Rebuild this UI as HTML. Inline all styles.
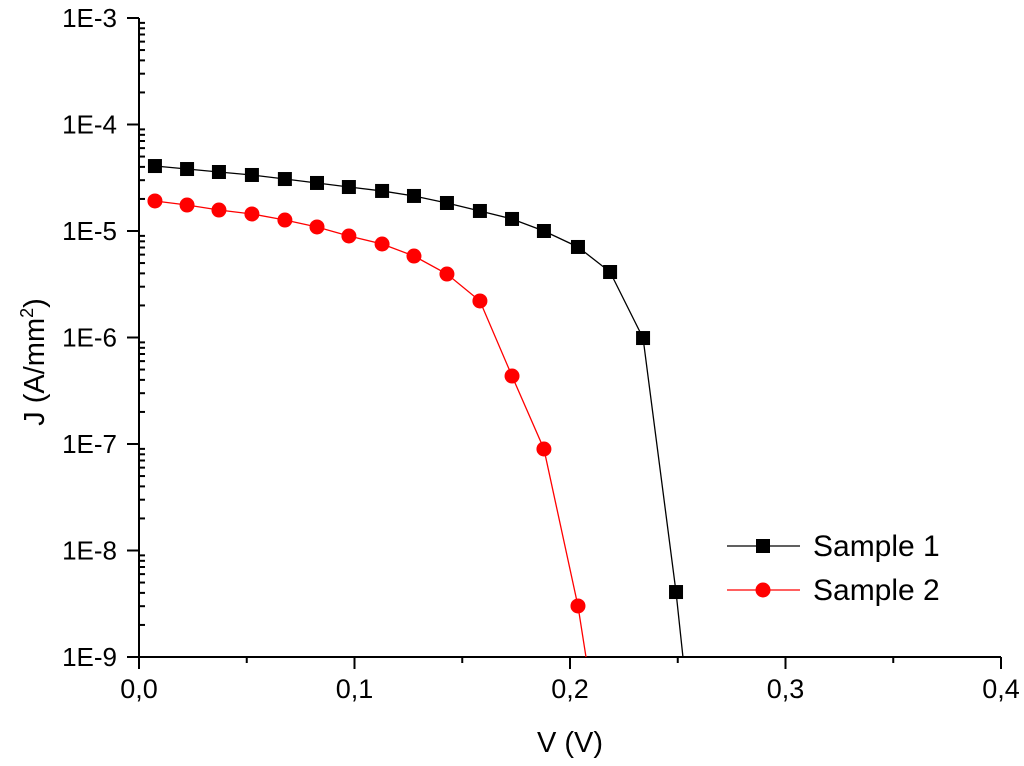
<!DOCTYPE html>
<html><head><meta charset="utf-8"><style>
html,body{margin:0;padding:0;background:#fff;overflow:hidden;width:1024px;height:766px;}
svg{display:block;}
svg text{font-family:"Liberation Sans",Arial,sans-serif;fill:#000;}
</style></head><body>
<svg id="chart" width="1024" height="766" viewBox="0 0 1024 766" xmlns="http://www.w3.org/2000/svg">
<defs><clipPath id="clip"><rect x="139" y="10" width="870" height="647"/></clipPath></defs>
<g id="axes"></g>
<g id="series" clip-path="url(#clip)"></g>
<g id="legend"></g>
</svg>
<script>
const xTicks = [0, 0.1, 0.2, 0.3, 0.4];
const xTickLabels = ["0,0", "0,1", "0,2", "0,3", "0,4"];
const yTickExps = [-9, -8, -7, -6, -5, -4, -3];
const yTickLabels = ["1E-9", "1E-8", "1E-7", "1E-6", "1E-5", "1E-4", "1E-3"];
const s1V = [0.0074,0.0223,0.0371,0.0524,0.0677,0.0826,0.0974,0.1128,0.1276,0.1429,0.1582,0.1731,0.1879,0.2037,0.2186,0.2339,0.2492,0.264];
const s1LogJ = [-4.390,-4.418,-4.446,-4.474,-4.512,-4.549,-4.587,-4.624,-4.671,-4.737,-4.812,-4.887,-5.000,-5.150,-5.385,-6.005,-8.390,-11.2];
const s2V = [0.0074,0.0223,0.0371,0.0524,0.0677,0.0826,0.0974,0.1128,0.1276,0.1429,0.1582,0.1731,0.1879,0.2037,0.2186];
const s2LogJ = [-4.718,-4.756,-4.803,-4.840,-4.897,-4.962,-5.047,-5.122,-5.235,-5.404,-5.657,-6.362,-7.047,-8.521,-10.44];

const L=139,R=1001,T=18,B=657;
const X=v=>L+(v-0)/(0.4-0)*(R-L);
const Y=e=>B-(e-(-9))/6*(B-T);
const NS="http://www.w3.org/2000/svg";
function mk(tag,attrs,parent){const e=document.createElementNS(NS,tag);for(const k in attrs)e.setAttribute(k,attrs[k]);parent.appendChild(e);return e;}
const axes=document.getElementById('axes'),series=document.getElementById('series'),legend=document.getElementById('legend');

let a=mk('line',{x1:L,y1:B,x2:R,y2:B,stroke:'#000','stroke-width':2},axes);


a=mk('line',{x1:L,y1:T,x2:L,y2:B,stroke:'#000','stroke-width':2},axes);


xTicks.forEach((v,i)=>{
  mk('line',{x1:X(v),y1:B,x2:X(v),y2:B+12,stroke:'#000','stroke-width':2},axes);
  if(i<xTicks.length-1) mk('line',{x1:X(v+0.05),y1:B,x2:X(v+0.05),y2:B+6,stroke:'#000','stroke-width':2},axes);
  const t=mk('text',{x:X(v),y:B+41,'text-anchor':'middle',style:'font-size:27px'},axes);
  t.textContent=xTickLabels[i];
  
  
});
yTickExps.forEach((e,i)=>{
  mk('line',{x1:L-12,y1:Y(e),x2:L,y2:Y(e),stroke:'#000','stroke-width':2},axes);
  if(i<yTickExps.length-1) for(let m=2;m<10;m++){const yy=Y(e+Math.log10(m));mk('line',{x1:L,y1:yy,x2:L+6,y2:yy,stroke:'#000','stroke-width':2},axes);}
  const t=mk('text',{x:L-22,y:Y(e)+9,'text-anchor':'end',style:'font-size:26px'},axes);
  t.textContent=yTickLabels[i];
  
  
});
let t=mk('text',{x:570,y:752,'text-anchor':'middle',style:'font-size:29px'},axes);
t.textContent='V (V)';


t=mk('text',{x:0,y:0,'text-anchor':'middle',style:'font-size:29px',transform:'translate(44,362) rotate(-90)'},axes);
t.innerHTML='J (A/mm<tspan dy="-11" style="font-size:18px">2</tspan><tspan dy="11">)</tspan>';



function drawSeries(vs,ls,color,shape,name){
  const pts=vs.map((v,i)=>X(v)+','+Y(ls[i])).join(' ');
  const p=mk('polyline',{points:pts,fill:'none',stroke:color,'stroke-width':1.3},series);
  
  
  vs.forEach((v,i)=>{
    let m;
    if(shape==='square') m=mk('rect',{x:X(v)-7,y:Y(ls[i])-7,width:14,height:14,fill:color},series);
    else m=mk('circle',{cx:X(v),cy:Y(ls[i]),r:7.5,fill:color},series);
    
    
  });
}
drawSeries(s1V,s1LogJ,'#000','square','sample-1');
drawSeries(s2V,s2LogJ,'#ff0000','circle','sample-2');

[['Sample 1','#000','square',546],['Sample 2','#ff0000','circle',590]].forEach(([lab,c,sh,y])=>{
  const g=mk('g',{},legend);
  
  
  mk('line',{x1:727,y1:y,x2:800,y2:y,stroke:c,'stroke-width':1.3},g);
  if(sh==='square') mk('rect',{x:756,y:y-7,width:14,height:14,fill:c},g);
  else mk('circle',{cx:763,cy:y,r:7.5,fill:c},g);
  const tt=mk('text',{x:813,y:y+10,style:'font-size:30px'},g);
  tt.textContent=lab;
});
</script>
</body></html>
